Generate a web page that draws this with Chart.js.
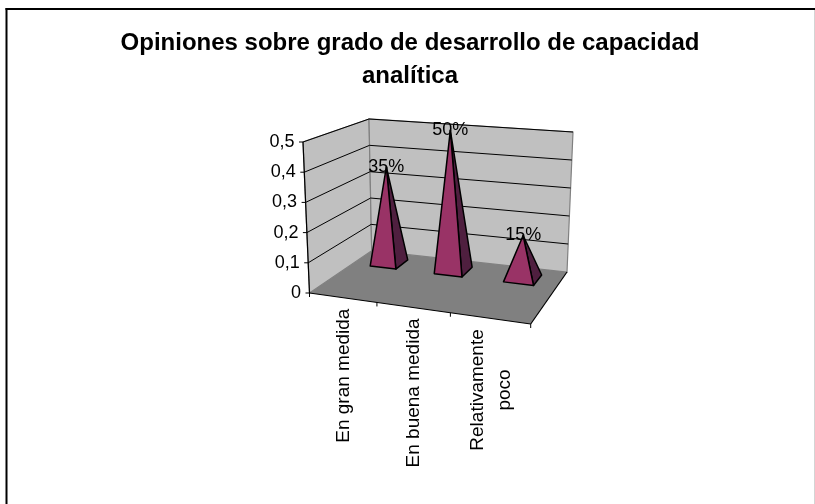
<!DOCTYPE html>
<html>
<head>
<meta charset="utf-8">
<title>Opiniones</title>
<script src="https://cdn.jsdelivr.net/npm/chart.js@4"></script>
<style>
  body { margin: 0; background: #ffffff; }
  canvas { display: block; }
</style>
</head>
<body>
<canvas id="grafico" width="815" height="504"></canvas>
<script>
const tituloLineas = ["Opiniones sobre grado de desarrollo de capacidad", "analítica"];
const categorias = ["En gran medida", "En buena medida", ["Relativamente", "poco"]];
const valores = [0.35, 0.5, 0.15];
const etiquetasValor = ["35%", "50%", "15%"];
const ejeMin = 0;
const ejeMax = 0.5;
const ejePaso = 0.1;

const fuente = "'Liberation Sans', Arial, sans-serif";
const colorFrente = "#993366";
const colorLado = "#4f1f3f";

// Esquinas de la caja 3D en pantalla (suelo y techo), medidas en la imagen
const suelo = [[309.5, 293], [530.7, 324], [567, 272], [371.7, 250.7]];
const techo = [[303, 142], [532, 163], [573, 132], [369, 119]];
const fondoBase = 0.655; // profundidad del frente de la pirámide
const fondoTope = 0.88; // profundidad del fondo de la pirámide

// Cuadrado unidad a cuadrilátero (homografía)
function homografia(q) {
  const dx1 = q[1][0] - q[2][0], dx2 = q[3][0] - q[2][0];
  const dy1 = q[1][1] - q[2][1], dy2 = q[3][1] - q[2][1];
  const sx = q[0][0] - q[1][0] + q[2][0] - q[3][0];
  const sy = q[0][1] - q[1][1] + q[2][1] - q[3][1];
  const den = dx1 * dy2 - dx2 * dy1;
  const g = (sx * dy2 - dx2 * sy) / den;
  const h = (dx1 * sy - sx * dy1) / den;
  return function (u, v) {
    const w = 1 + g * u + h * v;
    return [
      (q[1][0] - q[0][0] + g * q[1][0]) * u / w + (q[3][0] - q[0][0] + h * q[3][0]) * v / w + q[0][0] / w,
      (q[1][1] - q[0][1] + g * q[1][1]) * u / w + (q[3][1] - q[0][1] + h * q[3][1]) * v / w + q[0][1] / w,
    ];
  };
}
const enSuelo = homografia(suelo);
const enTecho = homografia(techo);

// u: a lo largo de categorías, v: profundidad, a: altura (0 a 1)
function proyectar(u, v, a) {
  const p = enSuelo(u, v);
  const t = enTecho(u, v);
  return [p[0] + (t[0] - p[0]) * a, p[1] + (t[1] - p[1]) * a];
}

function poligono(ctx, puntos, relleno, borde, grosor) {
  ctx.beginPath();
  puntos.forEach((p, i) => (i ? ctx.lineTo(p[0], p[1]) : ctx.moveTo(p[0], p[1])));
  ctx.closePath();
  if (relleno) {
    ctx.fillStyle = relleno;
    ctx.fill();
  }
  if (borde) {
    ctx.strokeStyle = borde;
    ctx.lineWidth = grosor;
    ctx.stroke();
  }
}

function linea(ctx, a, b, color, grosor) {
  ctx.beginPath();
  ctx.moveTo(a[0], a[1]);
  ctx.lineTo(b[0], b[1]);
  ctx.strokeStyle = color;
  ctx.lineWidth = grosor;
  ctx.stroke();
}

const caja3D = {
  id: "caja3D",
  beforeDatasetsDraw(chart) {
    const ctx = chart.ctx;
    const y = chart.scales.y;
    const area = chart.chartArea;
    ctx.save();

    // Marco del gráfico
    ctx.fillStyle = "#000000";
    ctx.fillRect(5.5, 8, 809.5, 2);
    ctx.fillRect(5.5, 8, 2, 496);
    ctx.fillStyle = "#d4d4d4";
    ctx.fillRect(814, 10, 1, 494);

    // Paredes y suelo
    poligono(ctx, [proyectar(0, 0, 0), proyectar(0, 1, 0), proyectar(0, 1, 1), proyectar(0, 0, 1)], "#c0c0c0", "#808080", 1.2);
    poligono(ctx, [proyectar(0, 1, 0), proyectar(1, 1, 0), proyectar(1, 1, 1), proyectar(0, 1, 1)], "#c0c0c0", "#808080", 1.2);
    poligono(ctx, [proyectar(0, 0, 0), proyectar(1, 0, 0), proyectar(1, 1, 0), proyectar(0, 1, 0)], "#808080", null, 0);

    // Rejilla y marcas del eje de valores
    ctx.font = "18px " + fuente;
    ctx.fillStyle = "#000000";
    ctx.textAlign = "right";
    ctx.textBaseline = "middle";
    y.ticks.forEach((t) => {
      const a = (area.bottom - y.getPixelForValue(t.value)) / (area.bottom - area.top);
      if (a > 0) {
        linea(ctx, proyectar(0, 0, a), proyectar(0, 1, a), "#000000", 1);
        linea(ctx, proyectar(0, 1, a), proyectar(1, 1, a), "#000000", 1);
      }
      const p = proyectar(0, 0, a);
      linea(ctx, [p[0] - 4, p[1]], p, "#000000", 1);
      ctx.fillStyle = "#000000";
      ctx.fillText(t.label, p[0] - 8.5, p[1]);
    });

    // Ejes en negro
    linea(ctx, proyectar(0, 0, 0), proyectar(0, 0, 1), "#000000", 1.2);
    linea(ctx, proyectar(0, 0, 0), proyectar(1, 0, 0), "#000000", 1.2);
    linea(ctx, proyectar(1, 0, 0), proyectar(1, 1, 0), "#000000", 1.2);

    // Marcas y etiquetas de categorías
    const x = chart.scales.x;
    for (let i = 0; i <= categorias.length; i++) {
      const p = proyectar(i / categorias.length, 0, 0);
      linea(ctx, p, [p[0], p[1] + 4], "#000000", 1);
    }
    categorias.forEach((c, i) => {
      const u = (x.getPixelForValue(i) - area.left) / (area.right - area.left);
      const p = proyectar(u, 0, 0);
      const lineas = [].concat(c);
      ctx.save();
      ctx.translate(p[0] + 1 + (lineas.length - 1) * -13, p[1] + 11);
      ctx.rotate(-Math.PI / 2);
      ctx.font = "19px " + fuente;
      ctx.textBaseline = "middle";
      if (lineas.length === 1) {
        ctx.textAlign = "right";
        ctx.fillText(lineas[0], 0, 0);
      } else {
        const ancho = ctx.measureText(lineas[0]).width;
        ctx.textAlign = "center";
        lineas.forEach((l, k) => ctx.fillText(l, -ancho / 2, k * 27));
      }
      ctx.restore();
    });
    ctx.restore();
  },
  afterDatasetsDraw(chart) {
    const ctx = chart.ctx;
    const area = chart.chartArea;
    const ancho = area.right - area.left;
    const alto = area.bottom - area.top;
    const barras = chart.getDatasetMeta(0).data;
    ctx.save();
    ctx.lineJoin = "round";
    barras.forEach((b, i) => {
      const u = (b.x - area.left) / ancho;
      const m = b.width / 2 / ancho;
      const a = (b.base - b.y) / alto;
      const vc = (fondoBase + fondoTope) / 2;
      const cima = proyectar(u, vc, a);
      const fi = proyectar(u - m, fondoBase, 0);
      const fd = proyectar(u + m, fondoBase, 0);
      const td = proyectar(u + m, fondoTope, 0);
      poligono(ctx, [fd, td, cima], colorLado, "#000000", 1.5);
      poligono(ctx, [fi, fd, cima], colorFrente, "#000000", 1.5);

      ctx.font = "18px " + fuente;
      ctx.fillStyle = "#000000";
      ctx.textAlign = "center";
      ctx.textBaseline = "middle";
      ctx.fillText(etiquetasValor[i], cima[0], cima[1]);
    });
    ctx.restore();
  },
};

new Chart(document.getElementById("grafico"), {
  type: "bar",
  data: {
    labels: categorias,
    datasets: [
      {
        label: "Opiniones",
        data: valores,
        backgroundColor: "rgba(0, 0, 0, 0)", // las pirámides las pinta el plugin
        borderWidth: 0,
        barPercentage: 0.41,
        categoryPercentage: 1,
      },
    ],
  },
  options: {
    responsive: false,
    animation: false,
    layout: { padding: { left: 5 } },
    plugins: {
      legend: { display: false },
      tooltip: { enabled: false },
      title: {
        display: true,
        text: tituloLineas,
        color: "#000000",
        font: { family: fuente, size: 24, weight: "bold", lineHeight: 1.375 },
        padding: { top: 27, bottom: 10 },
      },
    },
    scales: {
      x: { display: false },
      y: {
        display: false,
        min: ejeMin,
        max: ejeMax,
        ticks: {
          stepSize: ejePaso,
          callback: (v) => String(Math.round(v * 10) / 10).replace(".", ","),
        },
      },
    },
  },
  plugins: [caja3D],
});
</script>
</body>
</html>
